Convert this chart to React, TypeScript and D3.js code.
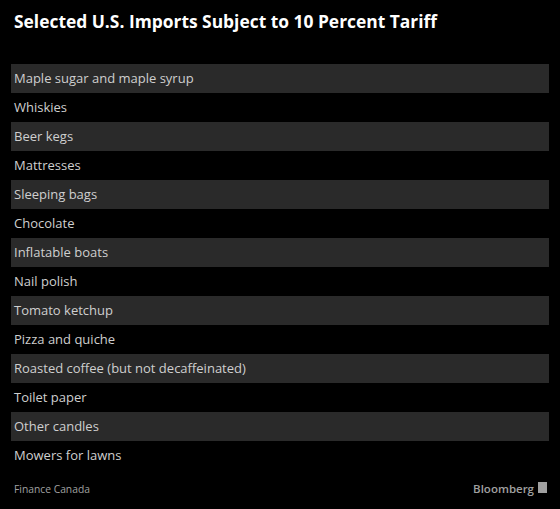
import React from "react";
import * as d3 from "d3";

const TITLE = "Selected U.S. Imports Subject to 10 Percent Tariff";
const items = [
  "Maple sugar and maple syrup",
  "Whiskies",
  "Beer kegs",
  "Mattresses",
  "Sleeping bags",
  "Chocolate",
  "Inflatable boats",
  "Nail polish",
  "Tomato ketchup",
  "Pizza and quiche",
  "Roasted coffee (but not decaffeinated)",
  "Toilet paper",
  "Other candles",
  "Mowers for lawns",
];
const SOURCE = "Finance Canada";
const BRAND = "Bloomberg";

const W = 560;
const H = 509;

export default function App() {
  const y = d3.scaleBand<string>().domain(items).range([64, 470]).padding(0);
  const x0 = 11;
  const x1 = 549;
  return (
    <div style={{ position: "fixed", left: 0, top: 0, width: W, height: H, background: "#000" }}>
      <svg width={W} height={H} style={{ display: "block", background: "#000" }}>
        <text x={14} y={28} fill="#ffffff" fontFamily="'Open Sans', sans-serif" fontWeight={700} fontSize={17.4}>
          {TITLE}
        </text>
        {items.map((d, i) => (
          <g key={d}>
            {i % 2 === 0 && (
              <rect x={x0} y={y(d)} width={x1 - x0} height={y.bandwidth()} fill="#2a2a2a" />
            )}
            <text
              x={14}
              y={(y(d) as number) + y.bandwidth() / 2}
              dy="0.36em"
              fill="#cfcfcf"
              fontFamily="'Open Sans', sans-serif"
              fontSize={13}
            >
              {d}
            </text>
          </g>
        ))}
        <text x={14} y={493} fill="#a0a0a0" fontFamily="'Open Sans', sans-serif" fontSize={10.3}>
          {SOURCE}
        </text>
        <text x={534} y={493} textAnchor="end" fill="#a0a0a0" fontFamily="'Open Sans', sans-serif" fontWeight={600} fontSize={11.5}>
          {BRAND}
        </text>
        <rect x={538} y={482} width={9} height={11} fill="#a0a0a0" />
      </svg>
    </div>
  );
}
